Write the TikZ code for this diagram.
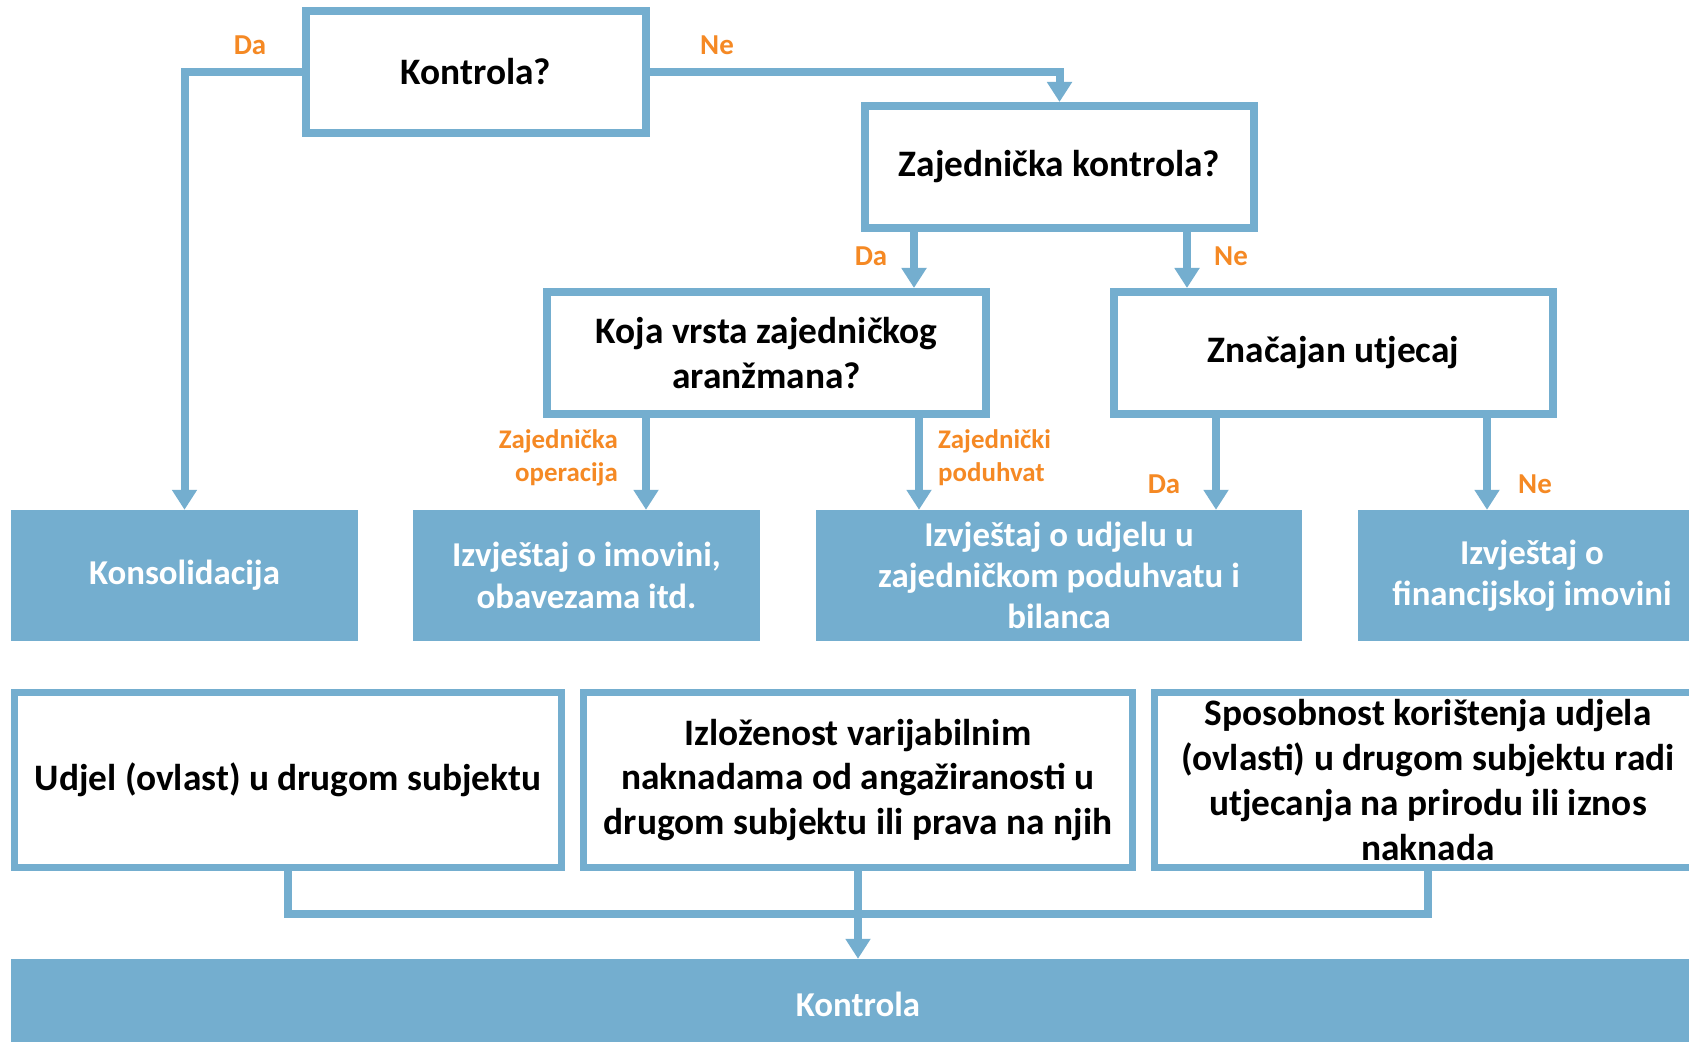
\documentclass[tikz,border=0pt]{standalone}
\usepackage{fontspec}
\setmainfont{Carlito}
\usepackage{tikz}
\usetikzlibrary{shapes.geometric, arrows, arrows.meta, positioning}
\definecolor{boxblue}{RGB}{116,174,207}
\definecolor{answerorange}{RGB}{245,137,36}
\tikzstyle{question} = [rectangle, draw=boxblue, line width=8bp, fill=white, text=black, align=center, inner sep=0pt, minimum height=122bp, font=\fontsize{37.5}{45}\selectfont\bfseries]
\tikzstyle{result} = [rectangle, fill=boxblue, text=white, align=center, inner sep=0pt, minimum height=131bp, font=\fontsize{35}{41.5}\selectfont\bfseries]
\tikzstyle{criterion} = [rectangle, draw=boxblue, line width=7bp, fill=white, text=black, align=center, inner sep=0pt, minimum height=175bp, font=\fontsize{37.5}{45}\selectfont\bfseries]
\tikzstyle{answer} = [text=answerorange, inner sep=0pt, font=\fontsize{29}{35}\selectfont\bfseries]
\tikzstyle{subanswer} = [text=answerorange, inner sep=0pt, font=\fontsize{27}{33}\selectfont\bfseries]
\tikzstyle{arrow} = [line width=8bp, draw=boxblue, ->, >={Triangle[width=24bp,length=20bp]}]
\tikzstyle{line} = [line width=8bp, draw=boxblue]

\begin{document}
\begin{tikzpicture}[line join=miter]
\useasboundingbox (0bp,0bp) rectangle (1689bp,1042bp);
\clip (0bp,0bp) rectangle (1689bp,1042bp);
\fill [white] (0bp,0bp) rectangle (1689bp,1042bp);
%%
\node (kontrola) at (476bp,970bp) [question, minimum width=340bp] {Kontrola?};
  \node (zajednicka) at (1059.5bp,875bp) [question, minimum width=389bp] {Zajednička kontrola?};
  \node (vrsta) at (766.5bp,689bp) [question, minimum width=439bp] {Koja vrsta zajedničkog\\aranžmana?};
  \node (znacajan) at (1333.5bp,689bp) [question, minimum width=439bp] {Značajan utjecaj};
  \node (konsolidacija) at (184.5bp,466.5bp) [result, minimum width=347bp] {Konsolidacija};
  \node (imovina) at (586.5bp,466.5bp) [result, minimum width=347bp] {Izvještaj o imovini,\\obavezama itd.};
  \node (udjel) at (1059bp,466.5bp) [result, minimum width=486bp] {Izvještaj o udjelu u\\zajedničkom poduhvatu i\\bilanca};
  \node (financijska) at (1532bp,466.5bp) [result, minimum width=348bp] {Izvještaj o\\financijskoj imovini};
  \node (ovlast) at (288bp,262bp) [criterion, minimum width=547bp] {Udjel (ovlast) u drugom subjektu};
  \node (izlozenost) at (858bp,262bp) [criterion, minimum width=549bp] {Izloženost varijabilnim\\naknadama od angažiranosti u\\drugom subjektu ili prava na njih};
  \node (sposobnost) at (1428bp,262bp) [criterion, minimum width=547bp] {Sposobnost korištenja udjela\\(ovlasti) u drugom subjektu radi\\utjecanja na prirodu ili iznos\\naknada};
  \node (kontrolabar) at (858bp,38bp) [result, minimum width=1694bp, minimum height=90bp] {Kontrola};
%
  \coordinate (zajda) at (914bp,0bp);
  \coordinate (zajne) at (1187bp,0bp);
  \coordinate (vrstaop) at (646bp,0bp);
  \coordinate (vrstapo) at (919bp,0bp);
  \coordinate (znacda) at (1216bp,0bp);
  \coordinate (znacne) at (1487bp,0bp);
  \coordinate (spoj) at (858bp,128bp);
%
  \draw [arrow] (kontrola.west) -| (konsolidacija.north);
  \node (da1) at (250bp,997bp) [answer] {Da};
  \draw [arrow] (kontrola.east) -| (zajednicka.north);
  \node (ne1) at (717bp,997bp) [answer] {Ne};
  \draw [arrow] (zajednicka.south -| zajda) -- (vrsta.north -| zajda);
  \node (da2) at (871bp,786bp) [answer] {Da};
  \draw [arrow] (zajednicka.south -| zajne) -- (znacajan.north -| zajne);
  \node (ne2) at (1231bp,786bp) [answer] {Ne};
  \draw [arrow] (vrsta.south -| vrstaop) -- (imovina.north -| vrstaop);
  \node (op) at (618bp,584bp) [subanswer, anchor=east, align=right] {Zajednička\\operacija};
  \draw [arrow] (vrsta.south -| vrstapo) -- (udjel.north -| vrstapo);
  \node (po) at (938bp,584bp) [subanswer, anchor=west, align=left] {Zajednički\\poduhvat};
  \draw [arrow] (znacajan.south -| znacda) -- (udjel.north -| znacda);
  \node (da3) at (1164bp,558bp) [answer] {Da};
  \draw [arrow] (znacajan.south -| znacne) -- (financijska.north -| znacne);
  \node (ne3) at (1535bp,558bp) [answer] {Ne};
%
  \draw [line] (ovlast.south) |- (spoj) -| (sposobnost.south);
  \draw [arrow] (izlozenost.south) -- (kontrolabar.north);
%
\end{tikzpicture}
\end{document}
